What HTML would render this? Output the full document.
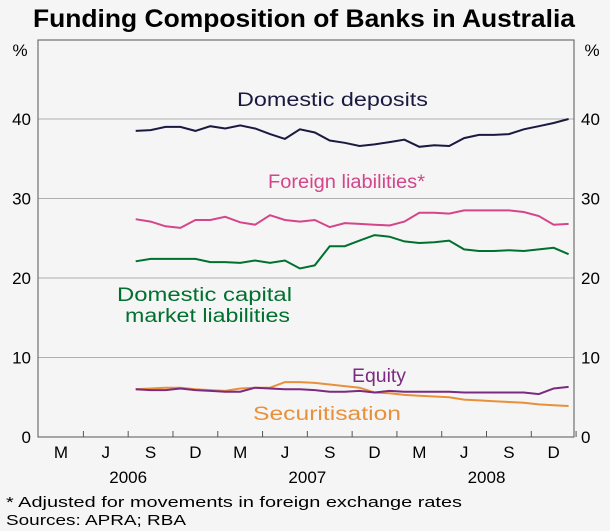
<!DOCTYPE html>
<html><head><meta charset="utf-8"><style>
body{margin:0;background:#f5f5f5;}
svg{display:block;font-family:"Liberation Sans",Arial,sans-serif;}
</style></head><body>
<svg id="c" width="610" height="531" viewBox="0 0 610 531">
<rect x="0" y="0" width="610" height="531" fill="#f5f5f5"/>
<text x="33" y="27" font-size="25" font-weight="bold" fill="#000" textLength="542" lengthAdjust="spacingAndGlyphs">Funding Composition of Banks in Australia</text>
<g id="grid"></g>
<g id="series"></g>
<rect x="38" y="40" width="536" height="397" fill="none" stroke="#555" stroke-width="1"/>
<text x="20" y="56" text-anchor="middle" font-size="17">%</text>
<text x="592" y="56" text-anchor="middle" font-size="17">%</text>
<text x="237" y="106" font-size="19" fill="#1a1a40" textLength="191" lengthAdjust="spacingAndGlyphs">Domestic deposits</text>
<text x="268" y="188" font-size="19" fill="#d4458a" textLength="157" lengthAdjust="spacingAndGlyphs">Foreign liabilities*</text>
<text x="117" y="301" font-size="19" fill="#00702e" textLength="175" lengthAdjust="spacingAndGlyphs">Domestic capital</text>
<text x="125" y="322" font-size="19" fill="#00702e" textLength="165" lengthAdjust="spacingAndGlyphs">market liabilities</text>
<text x="352" y="382" font-size="19" fill="#7a2a80" textLength="54" lengthAdjust="spacingAndGlyphs">Equity</text>
<text x="253" y="420" font-size="19" fill="#e8903a" textLength="148" lengthAdjust="spacingAndGlyphs">Securitisation</text>
<text x="6" y="507" font-size="15" textLength="456" lengthAdjust="spacingAndGlyphs">* Adjusted for movements in foreign exchange rates</text>
<text x="6" y="525" font-size="15" textLength="180" lengthAdjust="spacingAndGlyphs">Sources: APRA; RBA</text>
</svg>
<script>
const yTicks=[0,10,20,30,40];
const monthLabels=["M","J","S","D","M","J","S","D","M","J","S","D"];
const years=["2006","2007","2008"];
const deposits=[38.5,38.6,39.0,39.0,38.5,39.1,38.8,39.2,38.8,38.1,37.5,38.7,38.3,37.3,37.0,36.6,36.8,37.1,37.4,36.5,36.7,36.6,37.6,38.0,38.0,38.1,38.7,39.1,39.5,40.0];
const foreign=[27.4,27.1,26.5,26.3,27.3,27.3,27.7,27.0,26.7,27.9,27.3,27.1,27.3,26.4,26.9,26.8,26.7,26.6,27.1,28.2,28.2,28.1,28.5,28.5,28.5,28.5,28.3,27.8,26.7,26.8];
const capital=[22.1,22.4,22.4,22.4,22.4,22.0,22.0,21.9,22.2,21.9,22.2,21.2,21.6,24.0,24.0,24.7,25.4,25.2,24.6,24.4,24.5,24.7,23.6,23.4,23.4,23.5,23.4,23.6,23.8,23.0];
const equity=[6.0,5.9,5.9,6.1,5.9,5.8,5.7,5.7,6.2,6.1,6.0,6.0,5.9,5.7,5.7,5.8,5.6,5.8,5.7,5.7,5.7,5.7,5.6,5.6,5.6,5.6,5.6,5.4,6.1,6.3];
const securitisation=[6.0,6.1,6.2,6.2,6.0,5.9,5.8,6.1,6.2,6.2,6.9,6.9,6.8,6.6,6.4,6.2,5.6,5.5,5.3,5.2,5.1,5.0,4.7,4.6,4.5,4.4,4.3,4.1,4.0,3.9];
const firstMonth=5; // Aug 2006, months counted from Mar 2006
const NS="http://www.w3.org/2000/svg";
function X(m){return 61+14.93*m;}
function Y(v){return 437-7.95*v;}
const grid=document.getElementById('grid'),ser=document.getElementById('series'),svg=document.getElementById('c');
function mk(tag,attrs,parent){const e=document.createElementNS(NS,tag);for(const k in attrs)e.setAttribute(k,attrs[k]);parent.appendChild(e);return e;}
yTicks.forEach(v=>{
  if(v>0){const l=mk('line',{x1:38,x2:574,y1:Y(v),y2:Y(v),stroke:'#b0b0b0','stroke-width':1},grid);
  
  }
  const t1=mk('text',{x:31,y:Y(v)+6,'text-anchor':'end','font-size':17},svg);t1.textContent=v;
  
  
  const t2=mk('text',{x:581,y:Y(v)+6,'text-anchor':'start','font-size':17},svg);t2.textContent=v;
  
  
});
monthLabels.forEach((m,i)=>{
  const t=mk('text',{x:X(3*i),y:458,'text-anchor':'middle','font-size':17},svg);t.textContent=m;
  
  
  const tk=mk('line',{x1:X(3*i+1.5),x2:X(3*i+1.5),y1:437,y2:431,stroke:'#555'},svg);
  
  
});
years.forEach((y,i)=>{
  const t=mk('text',{x:X(12*i+4.5),y:483,'text-anchor':'middle','font-size':17},svg);t.textContent=y;
  
  
});
[[deposits,'#1a1a40','line-domestic-deposits'],[foreign,'#d4458a','line-foreign-liabilities'],[capital,'#00702e','line-domestic-capital-market'],[securitisation,'#e8903a','line-securitisation'],[equity,'#7a2a80','line-equity']].forEach(([d,c,n])=>{
  const pts=d.map((v,i)=>X(firstMonth+i).toFixed(1)+','+Y(v).toFixed(1)).join(' ');
  const p=mk('polyline',{points:pts,fill:'none',stroke:c,'stroke-width':2},ser);
  
  
});
</script>
</body></html>
